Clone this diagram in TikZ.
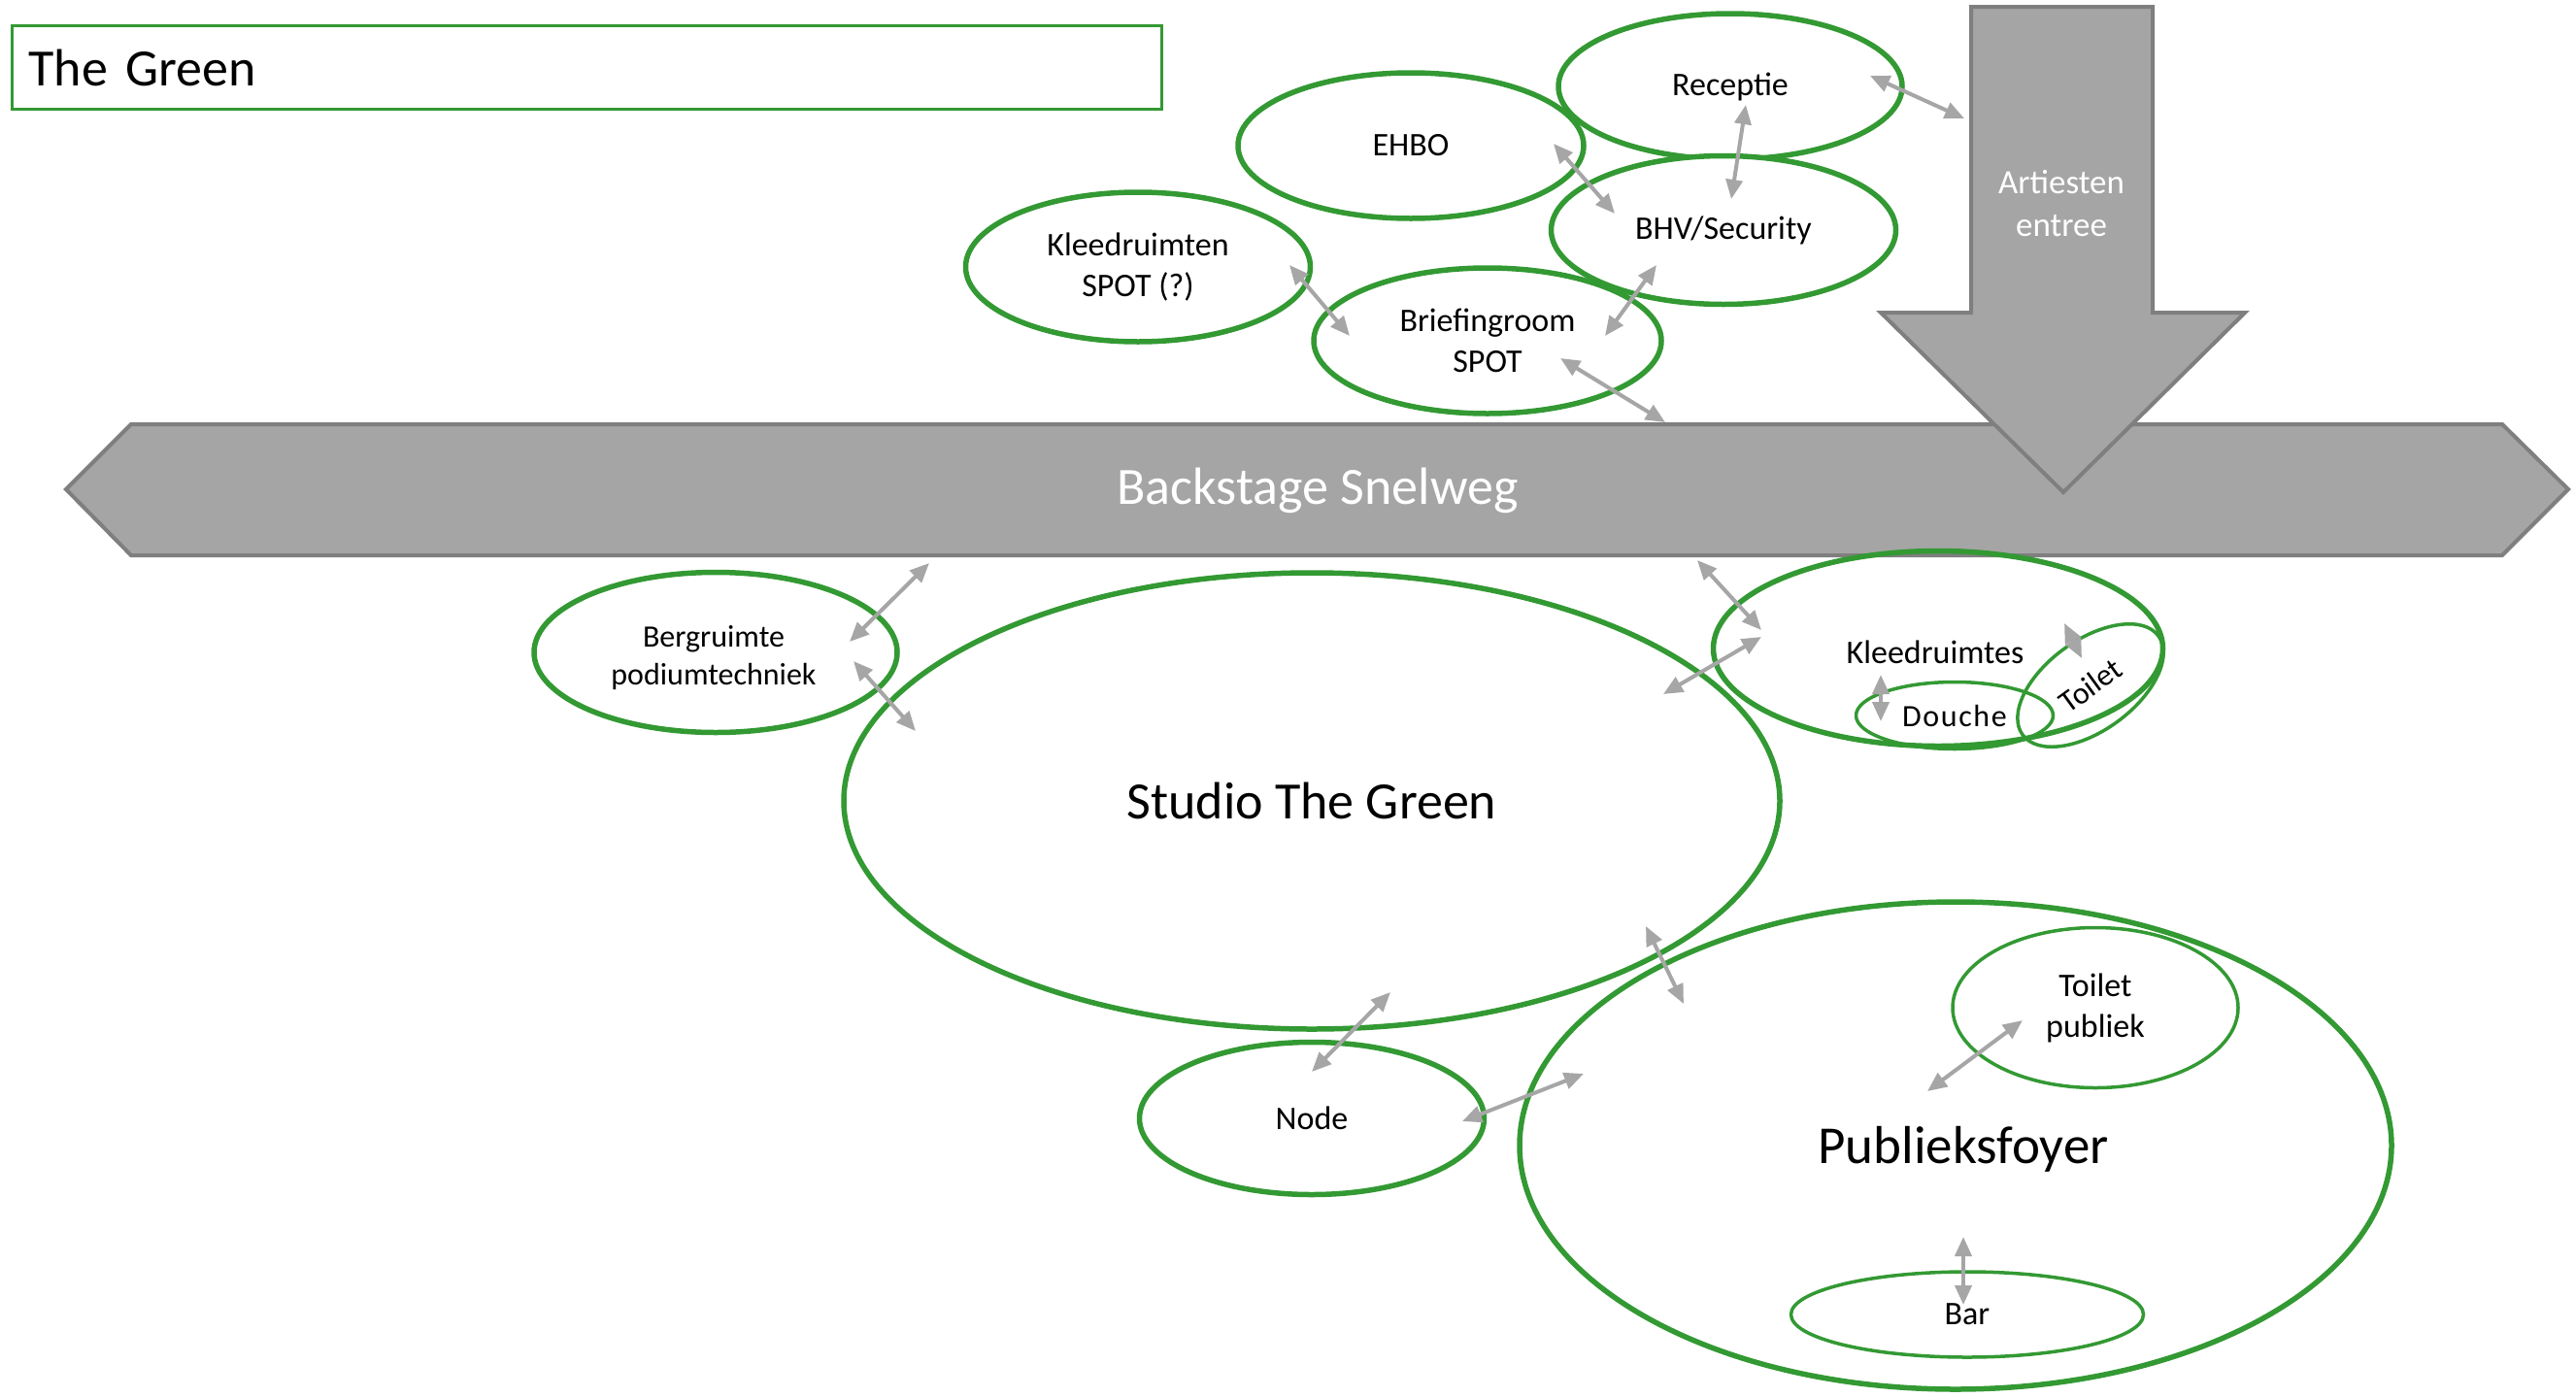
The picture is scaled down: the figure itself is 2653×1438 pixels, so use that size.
\documentclass[tikz,border=0pt]{standalone}
\usepackage{fontspec}
\setmainfont{Carlito}
\usetikzlibrary{shapes.geometric,arrows.meta}
\definecolor{grn}{HTML}{339933}
\definecolor{arw}{HTML}{A6A6A6}
\definecolor{bfill}{HTML}{A5A5A5}
\definecolor{bline}{HTML}{7F7F7F}
\begin{document}
\begin{tikzpicture}[x=1pt,y=-1pt,
  room/.style={ellipse, draw=grn, line width=5.5pt, inner sep=0pt, align=center, font=\fontsize{34}{42}\selectfont},
  toproom/.style={room, fill=white},
  inroom/.style={room, line width=3.5pt},
  dar/.style={draw=arw, line width=4pt, {Triangle[length=20pt,width=17pt]}-{Triangle[length=20pt,width=17pt]}},
  bigarrow/.style={fill=bfill, draw=bline, line width=4pt, line join=miter},
  bigtext/.style={text=white, align=center}
]
\useasboundingbox (0,0) rectangle (2653,1438);

% title
\node (title) [draw=grn, line width=3pt, anchor=north west, minimum height=86pt, text width=1150pt, inner xsep=17pt, align=left, font=\fontsize{54}{60}\selectfont] at (11,25) {The Green};

% backstage highway
\draw[bigarrow] (68,504) -- (135,437) -- (2577,437) -- (2645,504) -- (2577,572) -- (135,572) -- cycle;
\node (snel) [bigtext, font=\fontsize{54}{60}\selectfont] at (1357,505) {Backstage Snelweg};

% artist entrance
\draw[bigarrow] (2030,7) -- (2217,7) -- (2217,322) -- (2312,322) -- (2125,507) -- (1937,322) -- (2030,322) -- cycle;
\node (art) [bigtext, font=\fontsize{35}{44}\selectfont] at (2123,210) {Artiesten\\entree};

% top rooms
\node (rec) [toproom, minimum width=354pt, minimum height=150pt] at (1782,89) {Receptie};
\node (ehbo) [toproom, minimum width=356pt, minimum height=150pt] at (1453,150) {EHBO};
\node (kls) [toproom, minimum width=355pt, minimum height=154pt] at (1172,275) {Kleedruimten\\SPOT (?)};
\node (brief) [toproom, minimum width=358pt, minimum height=150pt] at (1532,351) {Briefingroom\\SPOT};
\node (bhv) [toproom, minimum width=355pt, minimum height=153pt] at (1775,237) {BHV/Security};

% lower rooms
\node (berg) [room, minimum width=374pt, minimum height=165pt] at (737,672) {};
\node (bergt) [align=center, font=\fontsize{32}{39}\selectfont] at (735,678) {Bergruimte\\podiumtechniek};
\node (studio) [room, minimum width=964pt, minimum height=470pt, font=\fontsize{54}{60}\selectfont] at (1351,825) {Studio The Green};
\node (kleed) [room, minimum width=463pt, minimum height=201pt] at (1996,668) {};
\node (kleedt) [font=\fontsize{34}{42}\selectfont] at (1993,672) {Kleedruimtes};
\node (douche) [inroom, minimum width=203pt, minimum height=69pt, font=\fontsize{32}{40}\selectfont\addfontfeatures{LetterSpace=5}] at (2013,737) {Douche};
\node (toilet) [inroom, rotate=36, minimum width=173pt, minimum height=93pt, font=\fontsize{32}{40}\selectfont] at (2153,706) {Toilet};
\node (nodez) [room, minimum width=355pt, minimum height=157pt] at (1351,1152) {Node};
\node (foyer) [room, minimum width=898pt, minimum height=502pt] at (2014,1180) {};
\node (foyert) [font=\fontsize{55}{62}\selectfont] at (2022,1184) {Publieksfoyer};
\node (toilp) [inroom, minimum width=294pt, minimum height=165pt] at (2158,1038) {Toilet\\publiek};
\node (bar) [inroom, minimum width=363pt, minimum height=88pt] at (2026,1354) {Bar};

% arrow end points
\coordinate (c1a) at (1926,78);   \coordinate (c1b) at (2023,122);
\coordinate (c2a) at (1798,108);  \coordinate (c2b) at (1783,205);
\coordinate (c3a) at (1600,148);  \coordinate (c3b) at (1663,220);
\coordinate (c4a) at (1706,273);  \coordinate (c4b) at (1653,346);
\coordinate (c5a) at (1328,273);  \coordinate (c5b) at (1390,346);
\coordinate (c6a) at (1607,369);  \coordinate (c6b) at (1715,435);
\coordinate (c7a) at (957,580);   \coordinate (c7b) at (875,661);
\coordinate (c8a) at (879,681);   \coordinate (c8b) at (943,753);
\coordinate (c9a) at (1748,577);  \coordinate (c9b) at (1814,649);
\coordinate (c10a) at (1814,656); \coordinate (c10b) at (1713,715);
\coordinate (c11a) at (1937,695); \coordinate (c11b) at (1937,743);
\coordinate (c12a) at (2126,642); \coordinate (c12b) at (2144,678);
\coordinate (c13a) at (1695,954); \coordinate (c13b) at (1734,1034);
\coordinate (c14a) at (1432,1022);\coordinate (c14b) at (1351,1104);
\coordinate (c15a) at (1506,1155);\coordinate (c15b) at (1631,1106);
\coordinate (c16a) at (2083,1051);\coordinate (c16b) at (1985,1124);
\coordinate (c17a) at (2022,1274);\coordinate (c17b) at (2022,1344);

\foreach \i in {1,...,17} {\draw[dar] (c\i a) -- (c\i b);}
\end{tikzpicture}
\end{document}
